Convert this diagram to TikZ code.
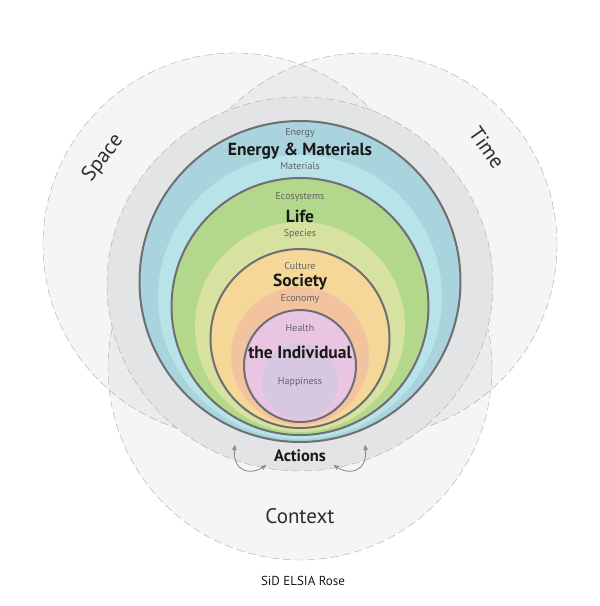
\documentclass[tikz,border=0pt]{standalone}
\usepackage{fontspec}
\setmainfont{PT Sans}
\usetikzlibrary{arrows,shapes.geometric,positioning}
\definecolor{dashgray}{HTML}{A9ABAE}
\definecolor{ringgray}{HTML}{E3E4E6}
\definecolor{edge}{HTML}{6E6F71}
\definecolor{labelgray}{HTML}{626366}
\definecolor{enDark}{HTML}{A9D3DD}
\definecolor{enLight}{HTML}{B7E3E9}
\definecolor{lifeDark}{HTML}{B4D88B}
\definecolor{lifeLight}{HTML}{D7E2A1}
\definecolor{socDark}{HTML}{F5D897}
\definecolor{socLight}{HTML}{F3C29E}
\definecolor{indDark}{HTML}{E9C5E2}
\definecolor{indLight}{HTML}{D8C7E0}
\tikzset{
    venn/.style =   {circle,
                    fill=black,
                    fill opacity=0.04,
                    draw=dashgray,
                    dashed,
                    dash pattern=on 8pt off 4pt,
                    thin,
                    inner sep=0pt,
                    minimum size=384pt},
    ring/.style =   {ellipse,
                    fill=ringgray,
                    draw=dashgray,
                    dash pattern=on 8pt off 4pt,
                    thin,
                    inner sep=0pt},
    band/.style =   {circle,
                    draw=none,
                    inner sep=0pt},
    shell/.style =  {circle,
                    draw=edge,
                    line width=2pt,
                    inner sep=0pt},
    small/.style =  {text=labelgray,
                    font=\fontsize{10}{12}\selectfont},
    title/.style =  {text=black!90,
                    font=\bfseries\fontsize{17.5}{20}\selectfont},
    big/.style =    {text=black!82,
                    font=\fontsize{21}{24}\selectfont},
    -,
    arr/.style =    {<->,
                    draw=black!45,
                    line width=0.9pt},
    >=stealth'}

\begin{document}
\begin{tikzpicture}[x=1pt,y=-1pt,node distance=18pt]
                \useasboundingbox (0,0) rectangle (600,606);

                % context circles
                \node[venn]         (space)   at (235,245)  {};
                \node[venn]         (time)    at (365,245)  {};
                \node[venn]         (context) at (300,368)  {};
                \node[ring,minimum width=386pt,minimum height=374pt] (actions) at (300,284) {};

                % rose
                \node[shell,fill=enDark,minimum size=321pt]     (energy)  at (300,281.5) {};
                \node[band,fill=enLight,minimum size=284pt]     (mat)     at (300,297)   {};
                \node[shell,fill=lifeDark,minimum size=257pt]   (life)    at (300,306.5) {};
                \node[band,fill=lifeLight,minimum size=210pt]   (spec)    at (300,327)   {};
                \node[shell,fill=socDark,minimum size=179pt]    (society) at (300,338.5) {};
                \node[band,fill=socLight,minimum size=138pt]    (econ)    at (300,356)   {};
                \node[shell,fill=indDark,minimum size=112pt]    (indiv)   at (300,366)   {};
                \node[band,fill=indLight,minimum size=76pt]     (happy)   at (300,381)   {};

                \node[title]        (enT)     at (300,151)  {Energy \& Materials};
                \node[small]        (enA)     [above of=enT] {Energy};
                \node[small]        (enB)     [below of=enT,node distance=15pt] {Materials};
                \node[title]        (lifeT)   at (300,216)  {Life};
                \node[small]        (lifeA)   [above of=lifeT,node distance=19pt] {Ecosystems};
                \node[small]        (lifeB)   [below of=lifeT] {Species};
                \node[title]        (socT)    at (300,282)  {Society};
                \node[small]        (socA)    [above of=socT,node distance=16pt] {Culture};
                \node[small]        (socB)    [below of=socT,node distance=17pt] {Economy};
                \node[title]        (indT)    at (300,352)  {the Individual};
                \node[small]        (indA)    [above of=indT,node distance=24pt] {Health};
                \node[small]        (indB)    [below of=indT,node distance=30pt] {Happiness};

                \node[title,font=\bfseries\fontsize{16.5}{19}\selectfont] (actT) at (300,456) {Actions};
                \node[big,rotate=52]  (spaceT)  at (103,158)  {Space};
                \node[big,rotate=-55] (timeT)   at (487,148)  {Time};
                \node[big]            (contT)   at (300,516)  {Context};
                \node[text=black!90,font=\fontsize{13}{15}\selectfont] (name) at (303,581) {SiD ELSIA Rose};

                % feedback arrows
                \coordinate (la) at (235,445);
                \coordinate (lb) at (266,465);
                \coordinate (ra) at (365,445);
                \coordinate (rb) at (334,465);
                \draw[arr] (la) .. controls (231,473) and (252,476) .. (lb);
                \draw[arr] (ra) .. controls (369,473) and (348,476) .. (rb);
        \end{tikzpicture}
\end{document}
